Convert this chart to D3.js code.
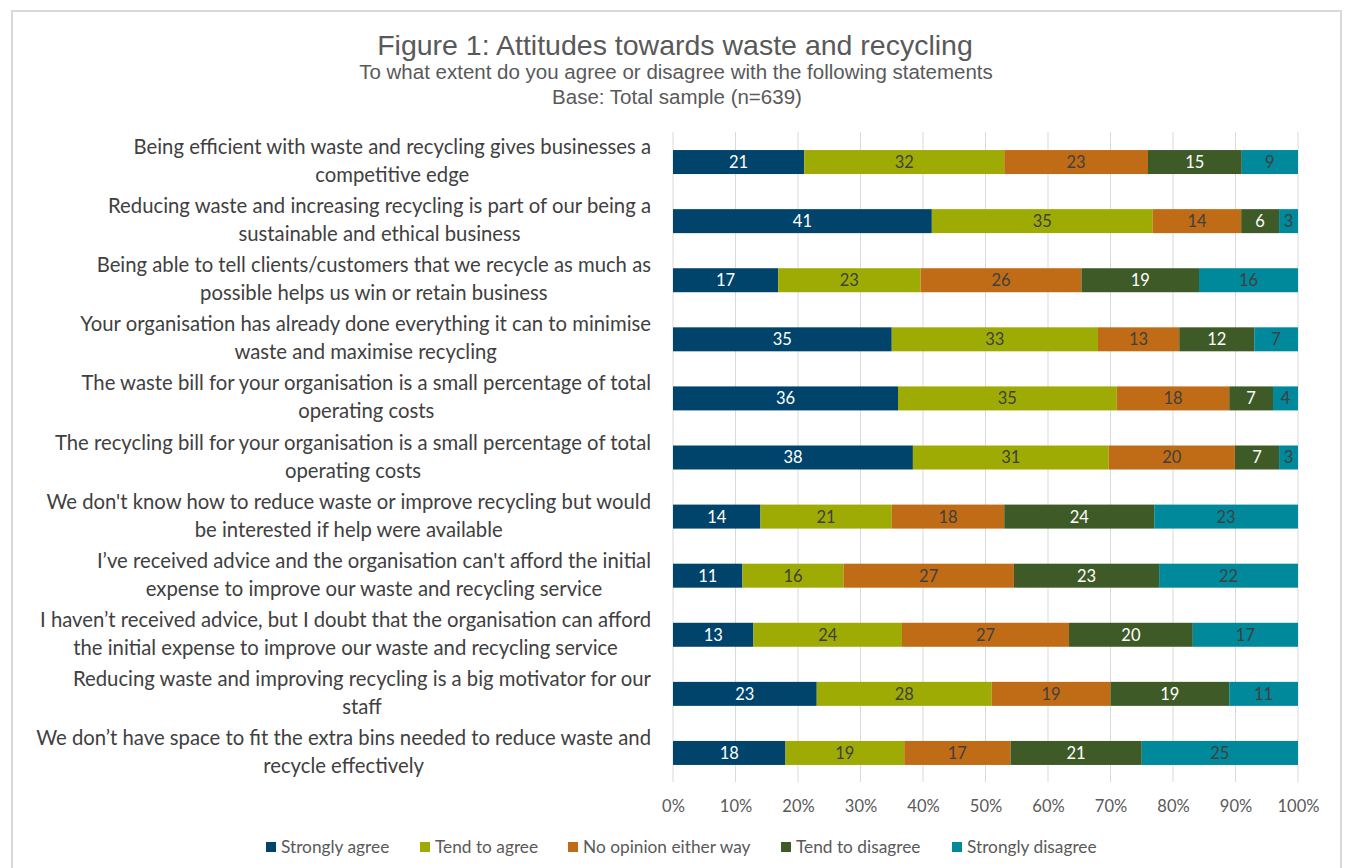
<!DOCTYPE html>
<html><head><meta charset="utf-8">
<script src="https://cdn.jsdelivr.net/npm/d3@7"></script>
<style>body{margin:0;background:#fff}svg{display:block}</style>
</head><body>
<svg id="c" width="1346" height="868"></svg>
<script>
const categories = [
  ["Being efficient with waste and recycling gives businesses a","competitive edge"],
  ["Reducing waste and increasing recycling is part of our being a","sustainable and ethical business"],
  ["Being able to tell clients/customers that we recycle as much as","possible helps us win or retain business"],
  ["Your organisation has already done everything it can to minimise","waste and maximise recycling"],
  ["The waste bill for your organisation is a small percentage of total","operating costs"],
  ["The recycling bill for your organisation is a small percentage of total","operating costs"],
  ["We don't know how to reduce waste or improve recycling but would","be interested if help were available"],
  ["I’ve received advice and the organisation can't afford the initial","expense to improve our waste and recycling service"],
  ["I haven’t received advice, but I doubt that the organisation can afford","the initial expense to improve our waste and recycling service"],
  ["Reducing waste and improving recycling is a big motivator for our","staff"],
  ["We don’t have space to fit the extra bins needed to reduce waste and","recycle effectively"]
];
const seriesNames = ["Strongly agree","Tend to agree","No opinion either way","Tend to disagree","Strongly disagree"];
const stronglyAgree    = [21,41,17,35,36,38,14,11,13,23,18];
const tendToAgree      = [32,35,23,33,35,31,21,16,24,28,19];
const noOpinion        = [23,14,26,13,18,20,18,27,27,19,17];
const tendToDisagree   = [15,6,19,12,7,7,24,23,20,19,21];
const stronglyDisagree = [9,3,16,7,4,3,23,22,17,11,25];
const tickLabels = ["0%","10%","20%","30%","40%","50%","60%","70%","80%","90%","100%"];
const colors = ["#00446b","#9eab05","#c06b15","#3d5a27","#00889b"];
const labelColors = ["#ffffff","#404040","#404040","#ffffff","#404040"];

const seriesValues = [stronglyAgree,tendToAgree,noOpinion,tendToDisagree,stronglyDisagree];
const rows = categories.map((c,i)=>{
  const o = {idx:i};
  seriesNames.forEach((s,j)=>o[s]=seriesValues[j][i]);
  return o;
});
const stack = d3.stack().keys(seriesNames).offset(d3.stackOffsetExpand);
const stacked = stack(rows);

const svg = d3.select("#c");
// frame
svg.append("rect").attr("x",12).attr("y",11).attr("width",1329).attr("height",870)
  .attr("fill","#fff").attr("stroke","#d9d9d9").attr("stroke-width",2);

// titles
svg.append("text").attr("x",675).attr("y",55).attr("text-anchor","middle")
  .attr("font-family","Liberation Sans, Arial, sans-serif").attr("font-size",28.5).attr("fill","#595959")
  .text("Figure 1: Attitudes towards waste and recycling");
svg.append("text").attr("x",676).attr("y",79).attr("text-anchor","middle")
  .attr("font-family","Liberation Sans, Arial, sans-serif").attr("font-size",20.5).attr("fill","#595959")
  .text("To what extent do you agree or disagree with the following statements");
svg.append("text").attr("x",677).attr("y",104).attr("text-anchor","middle")
  .attr("font-family","Liberation Sans, Arial, sans-serif").attr("font-size",20.5).attr("fill","#595959")
  .text("Base: Total sample (n=639)");

const x = d3.scaleLinear().domain([0,1]).range([673,1298]);
const y = d3.scaleBand().domain(d3.range(categories.length)).range([132.5,782.5])
  .paddingInner(0.594).paddingOuter(0.297);

// gridlines
const ticks = d3.range(0,1.0001,0.1);
svg.append("g").selectAll("line").data(ticks).join("line")
  .attr("x1",d=>x(d)).attr("x2",d=>x(d)).attr("y1",132).attr("y2",782)
  .attr("stroke","#d9d9d9").attr("stroke-width",1);

// axis labels
const axis = d3.axisBottom(x).tickValues(ticks).tickFormat((d,i)=>tickLabels[i]).tickSize(0).tickPadding(0);
const ag = svg.append("g").attr("transform","translate(0,797)").call(axis);
ag.select(".domain").remove();
ag.selectAll("text").attr("font-family","Lato, sans-serif").attr("font-size",16.5).attr("fill","#595959").attr("dy","0.9em");

// bars
const g = svg.append("g");
stacked.forEach((layer,j)=>{
  const lg = g.append("g");
  lg.selectAll("rect").data(layer).join("rect")
    .attr("x",d=>x(d[0])).attr("width",d=>x(d[1])-x(d[0]))
    .attr("y",(d,i)=>y(i)).attr("height",y.bandwidth())
    .attr("fill",colors[j]);
  lg.selectAll("text").data(layer).join("text")
    .attr("x",d=>(x(d[0])+x(d[1]))/2).attr("y",(d,i)=>y(i)+y.bandwidth()/2)
    .attr("dy","0.36em").attr("text-anchor","middle")
    .attr("font-family","Lato, sans-serif").attr("font-size",16.5).attr("fill",labelColors[j])
    .text((d,i)=>seriesValues[j][i]);
});

// category labels
const cg = svg.append("g");
categories.forEach((lines,i)=>{
  const cy = y(i)+y.bandwidth()/2;
  const t = cg.append("text").attr("font-family","Lato, sans-serif").attr("font-size",20.3).attr("fill","#404040")
    .attr("text-anchor","middle");
  const spans = lines.map((l,k)=>t.append("tspan").attr("y",cy-14+k*28+6).text(l));
  const maxW = d3.max(spans.map(s=>s.node().getComputedTextLength()));
  const cx = 651 - maxW/2;
  spans.forEach(s=>s.attr("x",cx));
});

// legend
const legendX = [266,420,568,781,952];
const lgd = svg.append("g");
seriesNames.forEach((s,j)=>{
  lgd.append("rect").attr("x",legendX[j]).attr("y",842).attr("width",10).attr("height",10).attr("fill",colors[j]);
  lgd.append("text").attr("x",legendX[j]+15).attr("y",853).attr("font-family","Lato, sans-serif")
    .attr("font-size",17.3).attr("fill","#595959").text(s);
});
</script>
</body></html>
